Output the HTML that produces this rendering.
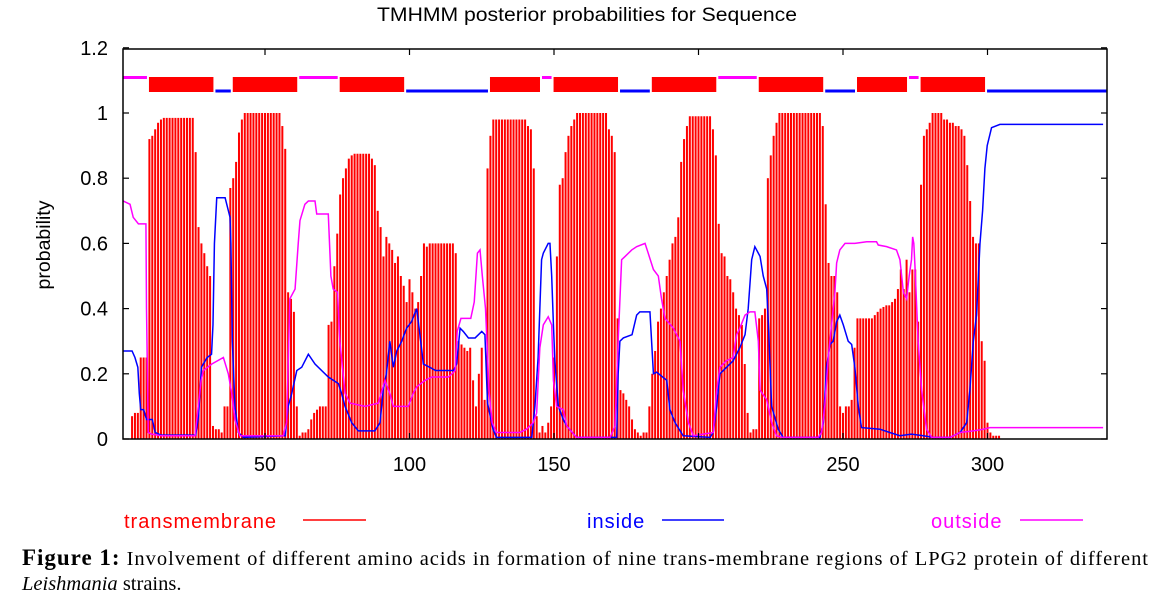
<!DOCTYPE html>
<html><head><meta charset="utf-8"><style>
html,body{margin:0;padding:0;background:#fff;width:1152px;height:601px;overflow:hidden}
svg{display:block}
</style></head><body>
<svg id="chart" width="1152" height="601" xmlns="http://www.w3.org/2000/svg" font-family="Liberation Sans, sans-serif">
<text x="377" y="21" font-size="19.5" textLength="420" lengthAdjust="spacingAndGlyphs">TMHMM posterior probabilities for Sequence</text>
<text transform="translate(50,245) rotate(-90)" font-size="19.5" text-anchor="middle">probability</text>
<g id="bars"></g>
<g id="topo"></g>
<g id="lines"></g>
<rect x="123" y="49" width="984" height="390" fill="none" stroke="#000" stroke-width="1.5"/>
<g id="axes"></g>
<g font-size="20">
 <g><text x="124" y="528" fill="#ff0000" letter-spacing="1">transmembrane</text><line x1="303" y1="520" x2="366" y2="520" stroke="#ff0000" stroke-width="1.5"/></g>
 <g><text x="587" y="528" fill="#0000ff" letter-spacing="1">inside</text><line x1="662" y1="520" x2="724" y2="520" stroke="#0000ff" stroke-width="1.5"/></g>
 <g><text x="931" y="528" fill="#ff00ff" letter-spacing="1">outside</text><line x1="1020" y1="520" x2="1083" y2="520" stroke="#ff00ff" stroke-width="1.5"/></g>
</g>
<g font-family="Liberation Serif, serif">
 <text x="22" y="565" font-size="20.5" textLength="1126" lengthAdjust="spacing"><tspan font-weight="bold" font-size="23">Figure 1:</tspan> Involvement of different amino acids in formation of nine trans-membrane regions of LPG2 protein of different</text>
 <text x="22" y="590" font-size="20.5"><tspan font-style="italic">Leishmania</tspan>  strains.</text>
</g>
</svg>
<script>
const tm = [
0,0,0,0,.07,.08,.08,.25,.25,.25,
.92,.93,.95,.97,.98,.985,.985,.985,.985,.985,
.985,.985,.985,.985,.985,.985,.88,.65,.6,.57,
.53,.5,.04,.03,.03,.02,.1,.1,.77,.8,
.85,.94,.98,1,1,1,1,1,1,1,
1,1,1,1,1,1,.96,.89,.45,.43,
.39,.1,.01,.02,.02,.03,.06,.08,.09,.1,
.1,.1,.35,.36,.53,.63,.75,.8,.83,.86,
.87,.875,.875,.875,.875,.875,.875,.86,.84,.7,
.65,.56,.62,.6,.58,.54,.56,.5,.47,.42,
.49,.45,.4,.42,.5,.6,.59,.6,.6,.6,
.6,.6,.6,.6,.6,.6,.57,.3,.29,.28,
.27,.28,.18,.1,.2,.28,.12,.83,.93,.98,
.98,.98,.98,.98,.98,.98,.98,.98,.98,.98,
.98,.96,.95,.83,.07,.02,.04,.02,.05,.1,
.25,.56,.78,.8,.88,.93,.96,.98,1,1,
1,1,1,1,1,1,1,1,1,.95,
.93,.88,.37,.15,.14,.12,.1,.06,.03,.02,
.01,.02,.02,.1,.2,.27,.36,.4,.45,.5,
.55,.6,.62,.68,.85,.92,.96,.99,.99,.99,
.99,.99,.99,.99,.99,.95,.87,.66,.57,.56,
.5,.49,.45,.4,.38,.35,.23,.08,.02,.03,
.03,.37,.38,.4,.8,.87,.93,.97,1,1,
1,1,1,1,1,1,1,1,1,1,
1,1,1,.96,.72,.54,.5,.5,.45,.1,
.08,.1,.1,.12,.28,.37,.37,.37,.37,.37,
.37,.38,.39,.4,.405,.41,.41,.42,.43,.46,
.52,.46,.55,.45,.52,.52,.36,.78,.93,.95,
.97,1,1,1,1,.98,.98,.97,.97,.96,
.96,.95,.93,.84,.73,.62,.6,.6,.3,.24,
.05,.02,.01,.01,.01,0,0,0,0,0,
0,0,0,0,0,0,0,0,0,0,
0,0,0,0,0,0,0,0,0,0,
0,0,0,0,0,0,0,0,0,0,
0
];
const insidePts = [[1,.27],[4,.27],[5,.25],[6,.22],[6.5,.14],[7,.09],[8,.09],[9,.06],[11,.06],[12,.02],[14,.012],[26,.012],[27,.07],[28,.22],[30,.25],[31.5,.26],[32,.35],[32.5,.6],[33.3,.74],[36.2,.74],[37.9,.68],[38.2,.6],[38.7,.3],[39.6,.1],[40.8,.02],[42.5,.005],[57,.01],[58,.1],[59,.13],[61,.21],[62.7,.22],[65,.26],[67.3,.23],[71.9,.19],[75.4,.17],[76.5,.14],[77.7,.1],[80,.05],[82.3,.025],[88,.025],[89.8,.05],[90.9,.15],[92,.2],[93.2,.3],[94.4,.22],[95.6,.27],[97.3,.3],[99,.34],[100.7,.36],[102.5,.4],[103.6,.32],[104.8,.23],[107,.22],[109,.21],[115.2,.21],[116.3,.23],[117.5,.34],[118.6,.33],[120.4,.31],[122.7,.31],[125,.33],[126.1,.32],[127,.11],[128.9,.03],[130.1,.005],[142.3,.005],[143.4,.1],[144.5,.25],[145.7,.55],[146.3,.57],[148,.6],[148.6,.6],[149.2,.5],[149.8,.35],[150.3,.24],[151.5,.1],[153.2,.06],[154.4,.04],[157.8,.005],[171.7,.005],[172.2,.2],[172.8,.3],[174,.31],[177,.32],[178.6,.38],[179.7,.39],[183.2,.39],[184.4,.2],[185.5,.205],[189,.18],[190.1,.09],[191.9,.05],[194.7,.01],[204,.005],[205.1,.02],[206.3,.1],[207.4,.2],[209.7,.22],[212,.24],[214.3,.28],[216.1,.32],[217.2,.4],[218.4,.55],[219.5,.59],[221.3,.56],[222.4,.5],[223.6,.46],[224.2,.35],[225.3,.1],[227.6,.03],[229.3,.005],[242,.005],[243.2,.05],[244.3,.22],[245.5,.29],[246.6,.3],[247.8,.36],[248.9,.38],[250.1,.35],[251.8,.3],[253,.29],[254.1,.22],[255.3,.1],[256.4,.035],[262.8,.03],[266.2,.02],[269.7,.01],[273.7,.015],[277.8,.01],[281.2,.005],[287,.005],[290.5,.02],[292.8,.05],[293.9,.15],[295.1,.3],[296.2,.38],[297.4,.6],[298.3,.7],[299.1,.83],[299.9,.9],[301.4,.955],[304.3,.965],[340,.965]];
const outsidePts = [[1,.73],[3.3,.72],[4.4,.68],[6.2,.66],[8.8,.66],[9,.4],[9.6,.02],[10.8,.015],[14.2,.01],[25.8,.01],[26.9,.1],[27.9,.18],[28.7,.21],[31.6,.23],[35.6,.25],[37.3,.2],[38.5,.14],[39.6,.06],[41.3,.01],[56.3,.01],[57.5,.05],[58.6,.43],[60.4,.46],[61.5,.6],[62.1,.67],[63.8,.72],[65,.73],[67.3,.73],[67.9,.69],[71.9,.69],[72.8,.5],[73.6,.46],[75.1,.45],[75.9,.3],[77.7,.14],[79.4,.11],[84.6,.1],[89.2,.11],[91.5,.18],[93.2,.14],[94.4,.1],[99.6,.1],[101.3,.14],[102.5,.16],[105.4,.18],[107.7,.19],[113.5,.19],[115.8,.21],[116.5,.33],[117.8,.37],[121.2,.37],[122.4,.42],[123.5,.57],[124.4,.58],[125.2,.5],[126.3,.4],[127.5,.15],[128.6,.05],[130.1,.02],[138.2,.02],[140.5,.03],[142.8,.05],[144,.08],[145.1,.28],[146.3,.35],[148,.375],[149.2,.35],[149.8,.18],[150.9,.1],[153.2,.09],[154.4,.04],[157.8,.005],[169.4,.005],[171.1,.04],[172.2,.3],[173.4,.55],[174.6,.56],[176.9,.58],[178.6,.59],[181.5,.6],[182.6,.57],[184.4,.52],[186.1,.5],[187.2,.43],[188.4,.37],[191.3,.34],[193.6,.3],[194.7,.15],[196.5,.05],[198.2,.01],[205.1,.02],[206.3,.15],[207.4,.22],[209.7,.24],[212,.25],[213.2,.32],[214.3,.34],[216.1,.38],[217.8,.39],[219.5,.39],[220.7,.3],[221.3,.15],[223.6,.12],[225.3,.05],[227,.01],[229,.005],[241.4,.005],[242.6,.02],[243.7,.1],[244.9,.25],[247.2,.45],[247.8,.54],[248.9,.58],[250.7,.6],[254.1,.6],[258.2,.605],[261.6,.605],[262.2,.595],[265.1,.59],[268.5,.58],[269.7,.55],[270.9,.45],[272,.43],[272.9,.5],[273.7,.55],[274.1,.62],[274.5,.6],[274.9,.53],[276,.3],[277.2,.15],[278.9,.03],[280.7,.005],[287,.005],[288.2,.01],[290.5,.02],[295.1,.025],[298.5,.03],[300.8,.035],[340,.035]];
const topoType = ["outside","TMhelix","inside","TMhelix","outside","TMhelix","inside","TMhelix","outside","TMhelix","inside","TMhelix","outside","TMhelix","inside","TMhelix","outside","TMhelix","inside"];
const topoStart = [1,10,33,39,62,76,99,128,146,150,173,184,207,221,244,255,273,277,300];
const topoEnd = [9,32,38,61,75,98,127,145,149,172,183,206,220,243,254,272,276,299,341];
const yTicks = [0,0.2,0.4,0.6,0.8,1,1.2];
const yTickLabels = ["0","0.2","0.4","0.6","0.8","1","1.2"];
const xTicks = [50,100,150,200,250,300];
const xTickLabels = ["50","100","150","200","250","300"];

const NS = "http://www.w3.org/2000/svg";
const X = r => 120.5 + 2.89 * r;
const Y = p => 439 - 326 * p;
function mk(tag, attrs, parent){const e=document.createElementNS(NS,tag);for(const k in attrs)e.setAttribute(k,attrs[k]);parent.appendChild(e);return e;}

const bars = document.getElementById('bars');
tm.forEach((v,i)=>{ if(v<=0) return;
  const b = mk('rect',{x:X(i)-1,y:Y(v),width:2,height:439-Y(v),fill:'#ff0000'},bars);
  
  
});

const topo = document.getElementById('topo');
topoType.forEach((t,i)=>{
  const x1 = X(topoStart[i]-0.5), x2 = X(topoEnd[i]+0.5);
  let e;
  if(t==="TMhelix") e = mk('rect',{x:x1+1,y:77,width:x2-x1-2,height:15,fill:'#ff0000'},topo);
  else if(t==="inside") e = mk('line',{x1:x1+1,x2:x2-1,y1:91,y2:91,stroke:'#0000ff','stroke-width':3},topo);
  else e = mk('line',{x1:x1+1,x2:x2-1,y1:77.5,y2:77.5,stroke:'#ff00ff','stroke-width':3},topo);
  
  
});

const lines = document.getElementById('lines');
const li = mk('polyline',{points:insidePts.map(p=>X(p[0])+','+Y(p[1])).join(' '),fill:'none',stroke:'#0000ff','stroke-width':1.5},lines);


const lo = mk('polyline',{points:outsidePts.map(p=>X(p[0])+','+Y(p[1])).join(' '),fill:'none',stroke:'#ff00ff','stroke-width':1.5},lines);



const axes = document.getElementById('axes');
yTicks.forEach((v,i)=>{
  const y = Y(v);
  const t1 = mk('line',{x1:123,x2:129,y1:y,y2:y,stroke:'#000','stroke-width':1.2},axes);
  
  
  const t2 = mk('line',{x1:1101,x2:1107,y1:y,y2:y,stroke:'#000','stroke-width':1.2},axes);
  
  
  const lab = mk('text',{x:108,y:y+7,'font-size':20,'text-anchor':'end'},axes);
  lab.textContent = yTickLabels[i];
  
  
});
xTicks.forEach((v,i)=>{
  const x = X(v);
  const t1 = mk('line',{x1:x,x2:x,y1:439,y2:433,stroke:'#000','stroke-width':1.2},axes);
  
  
  const t2 = mk('line',{x1:x,x2:x,y1:49,y2:55,stroke:'#000','stroke-width':1.2},axes);
  
  
  const lab = mk('text',{x:x,y:471,'font-size':20,'text-anchor':'middle'},axes);
  lab.textContent = xTickLabels[i];
  
  
});
</script>
</body></html>
